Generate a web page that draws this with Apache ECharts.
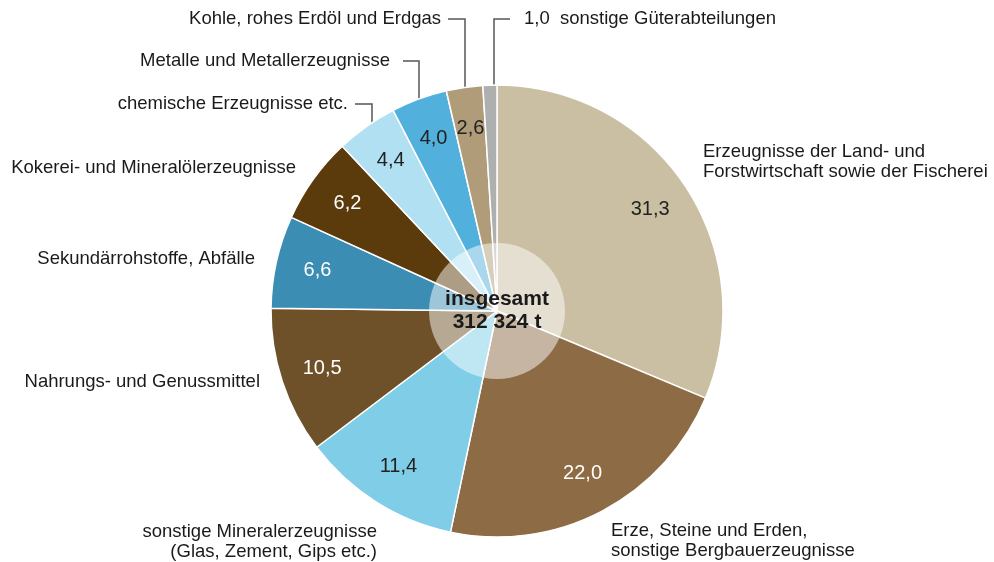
<!DOCTYPE html>
<html>
<head>
<meta charset="utf-8">
<script src="https://cdn.jsdelivr.net/npm/echarts@6/dist/echarts.min.js"></script>
<style>
  html, body { margin: 0; padding: 0; background: #fff; }
  #chart { width: 994px; height: 562px; }
</style>
</head>
<body>
<div id="chart"></div>
<script>
  // Anteile in %, im Uhrzeigersinn ab 12 Uhr
  var names = [
    'Erzeugnisse der Land- und\nForstwirtschaft sowie der Fischerei',
    'Erze, Steine und Erden,\nsonstige Bergbauerzeugnisse',
    'sonstige Mineralerzeugnisse\n(Glas, Zement, Gips etc.)',
    'Nahrungs- und Genussmittel',
    'Sekundärrohstoffe, Abfälle',
    'Kokerei- und Mineralölerzeugnisse',
    'chemische Erzeugnisse etc.',
    'Metalle und Metallerzeugnisse',
    'Kohle, rohes Erdöl und Erdgas',
    'sonstige Güterabteilungen'
  ];
  var values = [31.3, 22.0, 11.4, 10.5, 6.6, 6.2, 4.4, 4.0, 2.6, 1.0];
  var colors = ['#cbbfa3', '#8c6b45', '#7fcde6', '#6f5129', '#3b8db3',
                '#5b3a0b', '#b1e0f2', '#52b1dc', '#b09c79', '#aeafaf'];
  var valueTextColors = ['#222', '#fff', '#222', '#fff', '#fff',
                         '#fff', '#222', '#222', '#222', '#222'];
  var totalText = ['insgesamt', '312 324 t'];

  // Lage der Beschriftungen außen
  var labelPos = [
    {x: 703, y: 162, align: 'left'},
    {x: 611, y: 541, align: 'left'},
    {x: 377, y: 542, align: 'right'},
    {x: 260, y: 382, align: 'right'},
    {x: 255, y: 259, align: 'right'},
    {x: 296, y: 168, align: 'right'},
    {x: 348, y: 104, align: 'right'},
    {x: 390, y: 61, align: 'right'},
    {x: 441, y: 19, align: 'right'},
    {x: 524, y: 19, align: 'left'}
  ];
  var leaderLines = {
    6: [[372, 124], [372, 104], [355, 104]],
    7: [[419, 99], [419, 61], [403, 61]],
    8: [[465, 87], [465, 19], [448, 19]],
    9: [[494, 86], [494, 19], [510, 19]]
  };

  var center = [497, 311];
  var fontFamily = '"Liberation Sans", Arial, Helvetica, sans-serif';

  function fmt(v) {
    return v.toFixed(1).replace('.', ',');
  }

  var chart = echarts.init(document.getElementById('chart'));

  var pieData = values.map(function (v, i) {
    return {value: v, name: names[i], itemStyle: {color: colors[i]}};
  });
  var valueData = values.map(function (v, i) {
    return {
      value: v, name: names[i],
      label: {show: i !== 9, color: valueTextColors[i]}
    };
  });
  var outerData = values.map(function (v, i) {
    return {
      value: v, name: names[i],
      labelLine: {show: !!leaderLines[i]}
    };
  });

  chart.setOption({
    animation: false,
    series: [
      {
        // eigentliche Kreisflächen
        type: 'pie',
        center: center,
        radius: [0, 226],
        startAngle: 90,
        clockwise: true,
        silent: true,
        itemStyle: {borderColor: '#fff', borderWidth: 1.5},
        label: {show: false},
        labelLine: {show: false},
        data: pieData
      },
      {
        // Werte in den Segmenten
        type: 'pie',
        center: center,
        radius: [136, 226],
        startAngle: 90,
        clockwise: true,
        silent: true,
        itemStyle: {color: 'rgba(0,0,0,0)'},
        label: {
          position: 'inside',
          fontFamily: fontFamily,
          fontSize: 20,
          formatter: function (p) { return fmt(p.value); }
        },
        labelLine: {show: false},
        data: valueData
      },
      {
        // Beschriftungen außen
        type: 'pie',
        center: center,
        radius: [0, 226],
        startAngle: 90,
        clockwise: true,
        silent: true,
        itemStyle: {color: 'rgba(0,0,0,0)'},
        label: {
          position: 'outside',
          overflow: 'none',
          width: 400,
          edgeDistance: 0,
          fontFamily: fontFamily,
          fontSize: 18.5,
          lineHeight: 20,
          color: '#1a1a1a',
          formatter: function (p) {
            if (p.dataIndex === 9) return fmt(p.value) + '  ' + p.name;
            return p.name;
          }
        },
        labelLine: {
          show: true,
          lineStyle: {color: '#555', width: 1.5}
        },
        labelLayout: function (params) {
          var i = params.dataIndex;
          var pos = labelPos[i];
          var res = {
            x: pos.x, y: pos.y,
            align: pos.align, verticalAlign: 'middle',
            moveOverlap: null, hideOverlap: false
          };
          if (leaderLines[i]) res.labelLinePoints = leaderLines[i];
          return res;
        },
        data: outerData
      },
      {
        // heller Kreis in der Mitte
        type: 'pie',
        center: center,
        radius: [0, 68],
        silent: true,
        itemStyle: {color: 'rgba(255,255,255,0.5)'},
        label: {
          show: true,
          position: 'center',
          fontFamily: fontFamily,
          fontSize: 21,
          fontWeight: 'bold',
          lineHeight: 23,
          color: '#1a1a1a',
          formatter: totalText.join('\n')
        },
        labelLine: {show: false},
        data: [{value: 1, name: 'insgesamt'}]
      }
    ]
  });
</script>
</body>
</html>
